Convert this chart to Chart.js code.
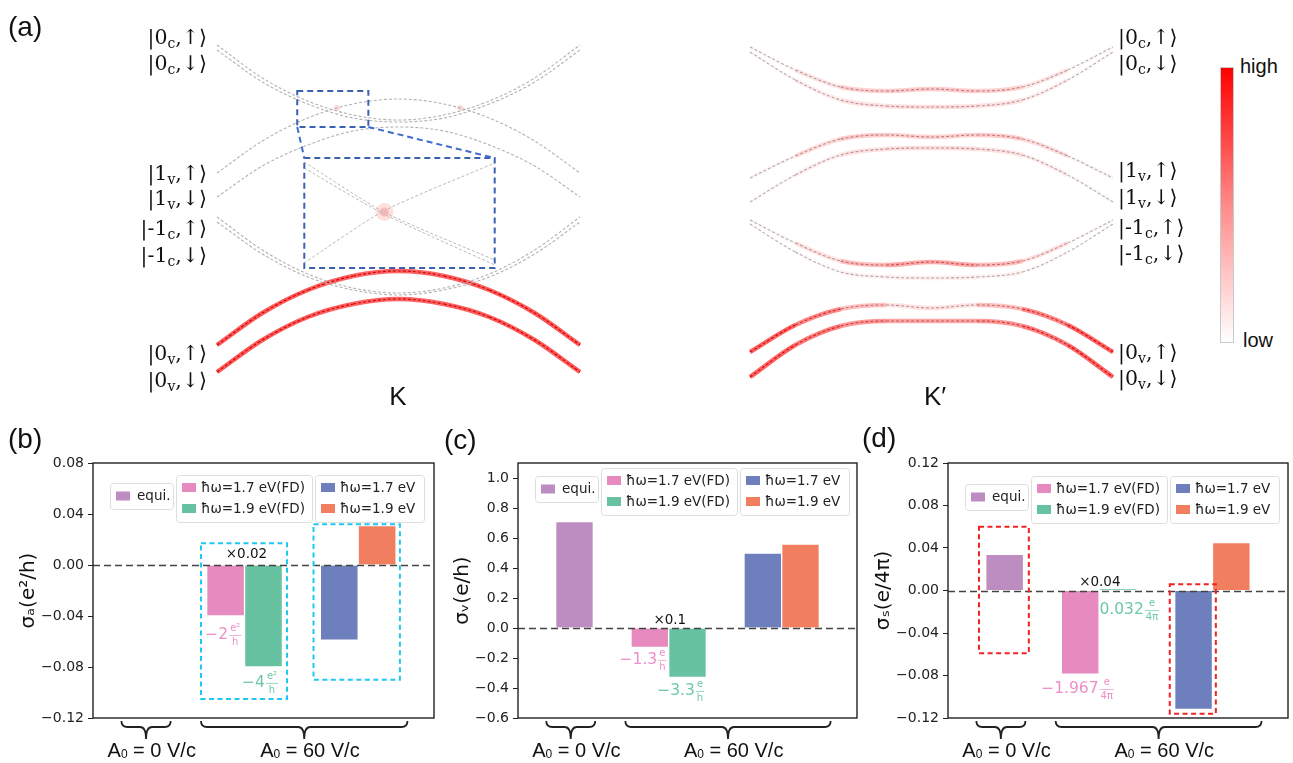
<!DOCTYPE html>
<html>
<head>
<meta charset="utf-8">
<title>Floquet bands and Hall-type conductivities</title>
<script src="https://cdn.jsdelivr.net/npm/chart.js@4.4.1/dist/chart.umd.min.js"></script>
<style>
  html, body { margin: 0; padding: 0; background: #fff; }
  #page { position: relative; width: 1293px; height: 763px; overflow: hidden; font-family: "DejaVu Sans", sans-serif; }
  canvas { position: absolute; }
  .tag { position: absolute; font-family: "Liberation Sans", Arial, sans-serif; font-size: 28px; line-height: 28px; color: #111; }
  .ket { position: absolute; font-family: "DejaVu Serif", serif; font-size: 20.5px; line-height: 20px; color: #111; white-space: nowrap; }
  .ket sub { font-size: 14px; line-height: 0; vertical-align: -4px; }
  .valley { position: absolute; font-family: "Liberation Sans", Arial, sans-serif; font-size: 26px; line-height: 26px; color: #111; transform: translateX(-50%); }
  #cbar { position: absolute; left: 1220px; top: 67px; width: 14px; height: 276px; box-sizing: border-box;
          background: linear-gradient(to bottom, #ff0000, #ff8a8a 50%, #ffffff); border: 1px solid #c9c9c9; }
  .cb { position: absolute; font-family: "Liberation Sans", Arial, sans-serif; font-size: 20px; line-height: 20px; color: #111; }
</style>
</head>
<body>
<div id="page">
  <canvas id="bandK" width="650" height="410" style="left:0;top:0"></canvas>
  <canvas id="bandKp" width="550" height="410" style="left:650px;top:0"></canvas>
  <canvas id="chartB" width="440" height="343" style="left:0;top:420px"></canvas>
  <canvas id="chartC" width="420" height="343" style="left:440px;top:420px"></canvas>
  <canvas id="chartD" width="433" height="343" style="left:860px;top:420px"></canvas>
  <div id="cbar"></div>
</div>
<script>
// ---- panel (a): band energies (arb. units) sampled along k ----
var kGrid = [-1, -0.75, -0.5, -0.25, 0, 0.25, 0.5, 0.75, 1];

// K valley
var K_0cUp  = [345, 312, 289, 275, 270, 275, 289, 312, 345];
var K_0cDn  = [340, 308, 286, 272, 268, 272, 286, 308, 340];
var K_1vUp  = [217, 249, 272, 286, 291, 286, 272, 249, 217];
var K_1vDn  = [193, 224, 245, 259, 263, 259, 245, 224, 193];
var K_m1cUp = [173, 140, 116, 102, 97, 102, 116, 140, 173];
var K_m1cDn = [168, 136, 113, 100, 95, 100, 113, 136, 168];
var K_0vUp  = [45, 77, 100, 114, 119, 114, 100, 77, 45];
var K_0vDn  = [18, 50, 73, 86, 91, 86, 73, 50, 18];
var K_I_0vUp = [1, 1, 1, 0.95, 0.95, 0.95, 1, 1, 1];
var K_I_0vDn = [1, 1, 1, 0.95, 0.95, 0.95, 1, 1, 1];

// zoomed crossing inside the K inset
var insetK      = [-0.52, -0.08, 0.53];
var insetDescUp = [228, 178, 130];
var insetDescDn = [222, 176, 125];
var insetAsc    = [127, 179, 227];
var spotK = [-0.077];
var spotE = [178];
var crossK = [-0.34, 0.34];
var crossE = [282, 282];

// K' valley
var Kp_0cUp  = [343, 320, 303, 299, 301, 299, 303, 320, 343];
var Kp_0cDn  = [338, 310, 290, 284, 283, 284, 290, 310, 338];
var Kp_1vUp  = [212, 234, 251, 255, 253, 255, 251, 234, 212];
var Kp_1vDn  = [188, 215, 235, 241, 242, 241, 235, 215, 188];
var Kp_m1cUp = [170, 147, 129, 125, 128, 125, 129, 147, 170];
var Kp_m1cDn = [166, 138, 118, 113, 112, 113, 118, 138, 166];
var Kp_0vUp  = [38, 65, 81, 85, 82, 85, 81, 65, 38];
var Kp_0vDn  = [13, 45, 64, 69, 69, 69, 64, 45, 13];
// occupation weight (colour scale low..high)
var Kp_I_0cUp  = [0, 0.05, 0.25, 0.3, 0.3, 0.3, 0.25, 0.05, 0];
var Kp_I_0cDn  = [0, 0.05, 0.15, 0.2, 0.2, 0.2, 0.15, 0.05, 0];
var Kp_I_1vUp  = [0, 0.1, 0.3, 0.3, 0.25, 0.3, 0.3, 0.1, 0];
var Kp_I_1vDn  = [0, 0.05, 0.15, 0.2, 0.2, 0.2, 0.15, 0.05, 0];
var Kp_I_m1cUp = [0, 0.05, 0.3, 0.5, 0.55, 0.5, 0.3, 0.05, 0];
var Kp_I_m1cDn = [0, 0, 0.05, 0.1, 0.1, 0.1, 0.05, 0, 0];
var Kp_I_0vUp  = [1, 0.9, 0.55, 0.2, 0.15, 0.2, 0.55, 0.9, 1];
var Kp_I_0vDn  = [1, 0.9, 0.7, 0.55, 0.5, 0.55, 0.7, 0.9, 1];

var ketLevels = ['0', '0', '1', '1', '-1', '-1', '0', '0'];
var ketBands  = ['c', 'c', 'v', 'v', 'c', 'c', 'v', 'v'];
var ketSpins  = ['↑', '↓', '↑', '↓', '↑', '↓', '↑', '↓'];

// ---- panels (b)-(d): bars ----
var seriesNames  = ['equi.', 'ħω=1.7 eV(FD)', 'ħω=1.9 eV(FD)', 'ħω=1.7 eV', 'ħω=1.9 eV'];
var seriesColors = ['#bd8cc0', '#e68abf', '#66c2a0', '#6e7fbd', '#f17f5f'];
var sigmaA = [0.0004, -0.040, -0.080, -0.059, 0.031];
var sigmaV = [0.71, -0.13, -0.33, 0.50, 0.56];
var sigmaS = [0.034, -0.0787, 0.0013, -0.112, 0.045];
var ticksA = [-0.12, -0.08, -0.04, 0, 0.04, 0.08];
var ticksV = [-0.6, -0.4, -0.2, 0, 0.2, 0.4, 0.6, 0.8, 1.0];
var ticksS = [-0.12, -0.08, -0.04, 0, 0.04, 0.08, 0.12];
var groupLabels = [['A', '0', ' = 0 V/c'], ['A', '0', ' = 60 V/c']];

// layout
var slotCount = 9;
var barSlots = [1, 3, 4, 6, 7];
var ketRowsLeft  = [37, 63, 173, 198, 228, 255, 353, 380];
var ketRowsRight = [37, 63, 170, 197, 227, 253, 352, 378];
var legendGroups = [
  { x: 17, w: 63, dy: 8, h: 26, items: [0] },
  { x: 83, w: 136, dy: 0, h: 47, items: [1, 2] },
  { x: 222, w: 109, dy: 0, h: 47, items: [3, 4] }
];
var braceSpans = [[0.75, 2.05], [2.85, 8.3]];

Chart.defaults.font.family = '"DejaVu Sans", sans-serif';

var page = document.getElementById('page');
function addDiv(cls, html, css) {
  var d = document.createElement('div');
  d.className = cls;
  d.innerHTML = html;
  for (var k in css) d.style[k] = css[k];
  page.appendChild(d);
  return d;
}

// ket labels
for (var i = 0; i < ketLevels.length; i++) {
  var txt = '|' + ketLevels[i] + '<sub>' + ketBands[i] + '</sub>,' + ketSpins[i] + '⟩';
  addDiv('ket', txt, { right: (1293 - 207) + 'px', top: (ketRowsLeft[i] - 10) + 'px', textAlign: 'right' });
  addDiv('ket', txt, { left: '1118px', top: (ketRowsRight[i] - 10) + 'px' });
}
addDiv('tag', '(a)', { left: '8px', top: '13px' });
addDiv('tag', '(b)', { left: '8px', top: '425px' });
addDiv('tag', '(c)', { left: '444px', top: '426px' });
addDiv('tag', '(d)', { left: '862px', top: '424px' });
addDiv('valley', 'K', { left: '398px', top: '383px' });
addDiv('valley', 'K′', { left: '935px', top: '383px' });
addDiv('cb', 'high', { left: '1240px', top: '56px' });
addDiv('cb', 'low', { left: '1243px', top: '330px' });

// ---------- band charts ----------
function coreColor(I) {
  var a = Math.min(1, I);
  var r = Math.round(178 + 22 * a), g = Math.round(178 - 178 * a);
  return 'rgb(' + r + ',' + g + ',' + g + ')';
}

function bandSets(curves) {
  var sets = [];
  curves.forEach(function(c) {
    var pts = kGrid.map(function(k, i) { return { x: k, y: c.e[i] }; });
    if (c.w) {
      sets.push({
        data: pts, order: 3, borderWidth: 4.5, pointRadius: 0, clip: false,
        cubicInterpolationMode: 'monotone', borderColor: 'rgba(255,0,0,0)',
        segment: { borderColor: function(s) {
          var a = (c.w[s.p0DataIndex] + c.w[s.p1DataIndex]) / 2;
          return 'rgba(255,25,25,' + (0.72 * a).toFixed(3) + ')';
        } }
      });
    }
    sets.push({
      data: pts, order: 1, borderWidth: 1.1, borderDash: [3, 2], pointRadius: 0, clip: false,
      cubicInterpolationMode: 'monotone', borderColor: '#b2b2b2',
      segment: { borderColor: function(s) {
        if (!c.w) return '#b2b2b2';
        return coreColor((c.w[s.p0DataIndex] + c.w[s.p1DataIndex]) / 2);
      } }
    });
  });
  return sets;
}

function bandOptions(padL, padR) {
  return {
    responsive: false, animation: false, events: [],
    layout: { padding: { left: padL, right: padR, top: 30, bottom: 20 } },
    scales: {
      x: { type: 'linear', min: -1, max: 1, display: false },
      y: { type: 'linear', min: 0, max: 360, display: false }
    },
    plugins: { legend: { display: false }, tooltip: { enabled: false } }
  };
}

function xy(xs, ys) { return xs.map(function(x, i) { return { x: x, y: ys[i] }; }); }

var kSets = bandSets([
  { e: K_0cUp }, { e: K_0cDn }, { e: K_1vUp }, { e: K_1vDn },
  { e: K_m1cUp }, { e: K_m1cDn }, { e: K_0vUp, w: K_I_0vUp }, { e: K_0vDn, w: K_I_0vDn }
]);
[insetDescUp, insetDescDn, insetAsc].forEach(function(arr) {
  kSets.push({ data: xy(insetK, arr), order: 1, borderWidth: 1, borderDash: [3, 2], borderColor: '#b9b9b9', pointRadius: 0, tension: 0.25 });
});
kSets.push({ data: xy(spotK, spotE), order: 4, showLine: false, pointRadius: 9, pointBorderWidth: 0, pointBackgroundColor: 'rgba(255,150,150,0.3)' });
kSets.push({ data: xy(spotK, spotE), order: 4, showLine: false, pointRadius: 4.5, pointBorderWidth: 0, pointBackgroundColor: 'rgba(255,140,140,0.45)' });
kSets.push({ data: xy(crossK, crossE), order: 4, showLine: false, pointRadius: 3, pointBorderWidth: 0, pointBackgroundColor: 'rgba(240,150,150,0.35)' });

var zoomBoxPlugin = {
  id: 'zoomBox',
  afterDatasetsDraw: function(chart) {
    var sx = chart.scales.x, sy = chart.scales.y, ctx = chart.ctx;
    var small = { k0: -0.558, k1: -0.166, e0: 263, e1: 299 };
    var large = { k0: -0.519, k1: 0.530, e0: 122, e1: 232 };
    function rect(b) {
      var x0 = sx.getPixelForValue(b.k0), x1 = sx.getPixelForValue(b.k1);
      var y0 = sy.getPixelForValue(b.e1), y1 = sy.getPixelForValue(b.e0);
      ctx.strokeRect(x0, y0, x1 - x0, y1 - y0);
      return { x0: x0, x1: x1, top: y0, bottom: y1 };
    }
    ctx.save();
    ctx.strokeStyle = '#3a61b0';
    ctx.lineWidth = 2;
    ctx.setLineDash([6, 4]);
    var a = rect(small), b = rect(large);
    ctx.strokeStyle = '#3f6ccc';
    ctx.beginPath();
    ctx.moveTo(a.x0, a.bottom); ctx.lineTo(b.x0, b.top);
    ctx.moveTo(a.x1, a.bottom); ctx.lineTo(b.x1, b.top);
    ctx.stroke();
    ctx.restore();
  }
};

new Chart(document.getElementById('bandK'), {
  type: 'line',
  data: { datasets: kSets },
  options: bandOptions(217, 70),
  plugins: [zoomBoxPlugin]
});

new Chart(document.getElementById('bandKp'), {
  type: 'line',
  data: { datasets: bandSets([
    { e: Kp_0cUp, w: Kp_I_0cUp }, { e: Kp_0cDn, w: Kp_I_0cDn },
    { e: Kp_1vUp, w: Kp_I_1vUp }, { e: Kp_1vDn, w: Kp_I_1vDn },
    { e: Kp_m1cUp, w: Kp_I_m1cUp }, { e: Kp_m1cDn, w: Kp_I_m1cDn },
    { e: Kp_0vUp, w: Kp_I_0vUp }, { e: Kp_0vDn, w: Kp_I_0vDn }
  ]) },
  options: bandOptions(100, 87)
});

// ---------- bar charts ----------
function drawNote(ctx, x, y, n) {
  var big = (n.size || 15.5) + 'px "DejaVu Sans"', small = '10px "DejaVu Sans"';
  ctx.font = big;
  var mw = ctx.measureText(n.main).width, fw = 0;
  if (n.num) {
    ctx.font = small;
    fw = Math.max(ctx.measureText(n.num).width, ctx.measureText(n.den).width) + 2;
  }
  var x0 = x - (mw + fw + (n.num ? 1 : 0)) / 2;
  ctx.fillStyle = n.color;
  ctx.strokeStyle = n.color;
  ctx.textBaseline = 'middle';
  ctx.textAlign = 'left';
  ctx.font = big;
  ctx.fillText(n.main, x0, y);
  if (n.num) {
    var fx = x0 + mw + 1 + fw / 2;
    ctx.font = small;
    ctx.textAlign = 'center';
    ctx.fillText(n.num, fx, y - 6.5);
    ctx.fillText(n.den, fx, y + 7);
    ctx.lineWidth = 0.7;
    ctx.beginPath(); ctx.moveTo(fx - fw / 2, y + 0.5); ctx.lineTo(fx + fw / 2, y + 0.5); ctx.stroke();
  }
}

function drawBrace(ctx, x0, x1, top) {
  var xt = (x0 + x1) / 2, y1 = top + 6, y2 = top + 18;
  ctx.beginPath();
  ctx.moveTo(x0, top);
  ctx.quadraticCurveTo(x0, y1, x0 + 6, y1);
  ctx.lineTo(xt - 6, y1);
  ctx.quadraticCurveTo(xt, y1, xt, y2);
  ctx.moveTo(x1, top);
  ctx.quadraticCurveTo(x1, y1, x1 - 6, y1);
  ctx.lineTo(xt + 6, y1);
  ctx.quadraticCurveTo(xt, y1, xt, y2);
  ctx.stroke();
  return xt;
}

function drawGroupLabel(ctx, xc, base, parts) {
  var big = '20px "Liberation Sans", Arial, sans-serif', sub = '12px "Liberation Sans", Arial, sans-serif';
  ctx.font = big; var w0 = ctx.measureText(parts[0]).width, w2 = ctx.measureText(parts[2]).width;
  ctx.font = sub; var w1 = ctx.measureText(parts[1]).width;
  var x = xc - (w0 + w1 + w2) / 2;
  ctx.fillStyle = '#111';
  ctx.textAlign = 'left';
  ctx.textBaseline = 'alphabetic';
  ctx.font = big; ctx.fillText(parts[0], x, base);
  ctx.font = sub; ctx.fillText(parts[1], x + w0, base + 1);
  ctx.font = big; ctx.fillText(parts[2], x + w0 + w1, base);
}

function makeDecor(look) {
  return {
    id: 'decor',
    afterDatasetsDraw: function(chart) {
      var ctx = chart.ctx, ca = chart.chartArea, sy = chart.scales.y;
      var sx = function(s) { return ca.left + s * ca.width / slotCount; };
      ctx.save();
      // zero line
      ctx.strokeStyle = '#444';
      ctx.lineWidth = 1.3;
      ctx.setLineDash([7, 4]);
      var y0 = Math.round(sy.getPixelForValue(0)) + 0.5;
      ctx.beginPath(); ctx.moveTo(ca.left, y0); ctx.lineTo(ca.right, y0); ctx.stroke();
      // highlight boxes
      look.boxes.forEach(function(b) {
        ctx.strokeStyle = b.color;
        ctx.lineWidth = 2;
        ctx.setLineDash([5, 3.5]);
        var xa = sx(b.s0), xb = sx(b.s1), ya = sy.getPixelForValue(b.v1), yb = sy.getPixelForValue(b.v0);
        ctx.strokeRect(xa, ya, xb - xa, yb - ya);
      });
      ctx.setLineDash([]);
      // notes
      look.notes.forEach(function(n) { drawNote(ctx, sx(n.s), sy.getPixelForValue(n.v), n); });
      // frame
      ctx.strokeStyle = '#222';
      ctx.lineWidth = 1.4;
      ctx.strokeRect(ca.left, ca.top, ca.width, ca.height);
      // legends
      legendGroups.forEach(function(g) {
        var x = ca.left + g.x, y = ca.top + look.legendTop + g.dy;
        ctx.beginPath();
        ctx.roundRect(x + 0.5, y + 0.5, g.w, g.h, 3);
        ctx.fillStyle = 'rgba(255,255,255,0.85)';
        ctx.fill();
        ctx.strokeStyle = '#dedede';
        ctx.lineWidth = 1;
        ctx.stroke();
        g.items.forEach(function(idx, r) {
          var cy = y + (g.items.length === 1 ? 13 : 12.5 + r * 21);
          ctx.fillStyle = seriesColors[idx];
          ctx.fillRect(x + 6, cy - 4.5, 14, 9);
          ctx.fillStyle = '#222';
          ctx.font = '13.5px "DejaVu Sans"';
          ctx.textAlign = 'left';
          ctx.textBaseline = 'middle';
          ctx.fillText(seriesNames[idx], x + (g.items.length === 1 ? 27 : 25), cy + 0.5);
        });
      });
      // braces + group labels
      ctx.strokeStyle = '#222';
      ctx.lineWidth = 1.8;
      braceSpans.forEach(function(sp, i) {
        var xt = drawBrace(ctx, sx(sp[0]), sx(sp[1]), ca.bottom + 3);
        drawGroupLabel(ctx, xt + 0.15 * ca.width / slotCount, ca.bottom + 39, groupLabels[i]);
      });
      ctx.restore();
    }
  };
}

function barChart(id, values, ticks, range, digits, title, look) {
  var datasets = seriesNames.map(function(name, i) {
    var d = [];
    for (var s = 0; s < slotCount; s++) d.push(s === barSlots[i] ? values[i] : null);
    return {
      label: name, data: d, backgroundColor: seriesColors[i],
      borderColor: 'rgba(255,255,255,0.55)', borderWidth: 1,
      grouped: false, barPercentage: 1, categoryPercentage: 1, skipNull: true
    };
  });
  var labels = [];
  for (var s = 0; s < slotCount; s++) labels.push('');
  return new Chart(document.getElementById(id), {
    type: 'bar',
    data: { labels: labels, datasets: datasets },
    options: {
      responsive: false, animation: false, events: [],
      layout: { padding: { left: look.padL, right: look.padR, top: 43, bottom: 45 } },
      scales: {
        x: { display: false },
        y: {
          min: range[0], max: range[1],
          afterBuildTicks: function(axis) { axis.ticks = ticks.map(function(v) { return { value: v }; }); },
          afterFit: function(axis) { axis.width = look.axisW; },
          border: { display: false },
          grid: { drawOnChartArea: false, drawTicks: true, tickLength: 5, color: '#222', tickWidth: 1 },
          ticks: {
            color: '#222', padding: 4, font: { size: 14 },
            callback: function(v) {
              var t = Math.abs(v) < 1e-9 ? (0).toFixed(digits) : Number(v).toFixed(digits);
              return t.replace('-', '−');
            }
          },
          title: { display: true, text: title, color: '#111', font: { size: 20 }, padding: { top: 4, bottom: 2 } }
        }
      },
      plugins: { legend: { display: false }, tooltip: { enabled: false } }
    },
    plugins: [makeDecor(look)]
  });
}

var pinkText = '#ee8ec7', greenText = '#6cc9a7';

barChart('chartB', sigmaA, ticksA, [-0.12, 0.08], 2, 'σₐ(e²/h)', {
  padL: 13, padR: 6, axisW: 80, legendTop: 12,
  boxes: [
    { s0: 2.85, s1: 5.12, v0: -0.105, v1: 0.017, color: '#1ec8f2' },
    { s0: 5.82, s1: 8.1, v0: -0.090, v1: 0.032, color: '#1ec8f2' }
  ],
  notes: [
    { s: 4.05, v: 0.0086, main: '×0.02', size: 13.5, color: '#111' },
    { s: 3.44, v: -0.0549, main: '−2', num: 'e²', den: 'h', color: pinkText },
    { s: 4.41, v: -0.0925, main: '−4', num: 'e²', den: 'h', color: greenText }
  ]
});

barChart('chartC', sigmaV, ticksV, [-0.6, 1.1], 1, 'σᵥ(e/h)', {
  padL: 7, padR: 3, axisW: 71, legendTop: 5,
  boxes: [],
  notes: [
    { s: 4.03, v: 0.053, main: '×0.1', size: 13.5, color: '#111' },
    { s: 3.32, v: -0.213, main: '−1.3', num: 'e', den: 'h', color: pinkText },
    { s: 4.32, v: -0.42, main: '−3.3', num: 'e', den: 'h', color: greenText }
  ]
});

barChart('chartD', sigmaS, ticksS, [-0.12, 0.12], 2, 'σₛ(e/4π)', {
  padL: 8, padR: 5, axisW: 80, legendTop: 13,
  boxes: [
    { s0: 0.82, s1: 2.14, v0: -0.059, v1: 0.060, color: '#f02222' },
    { s0: 5.87, s1: 7.09, v0: -0.116, v1: 0.006, color: '#f02222' }
  ],
  notes: [
    { s: 4.02, v: 0.008, main: '×0.04', size: 13.5, color: '#111' },
    { s: 4.80, v: -0.0184, main: '0.032', num: 'e', den: '4π', color: greenText },
    { s: 3.43, v: -0.0927, main: '−1.967', num: 'e', den: '4π', color: pinkText }
  ]
});
</script>
</body>
</html>
